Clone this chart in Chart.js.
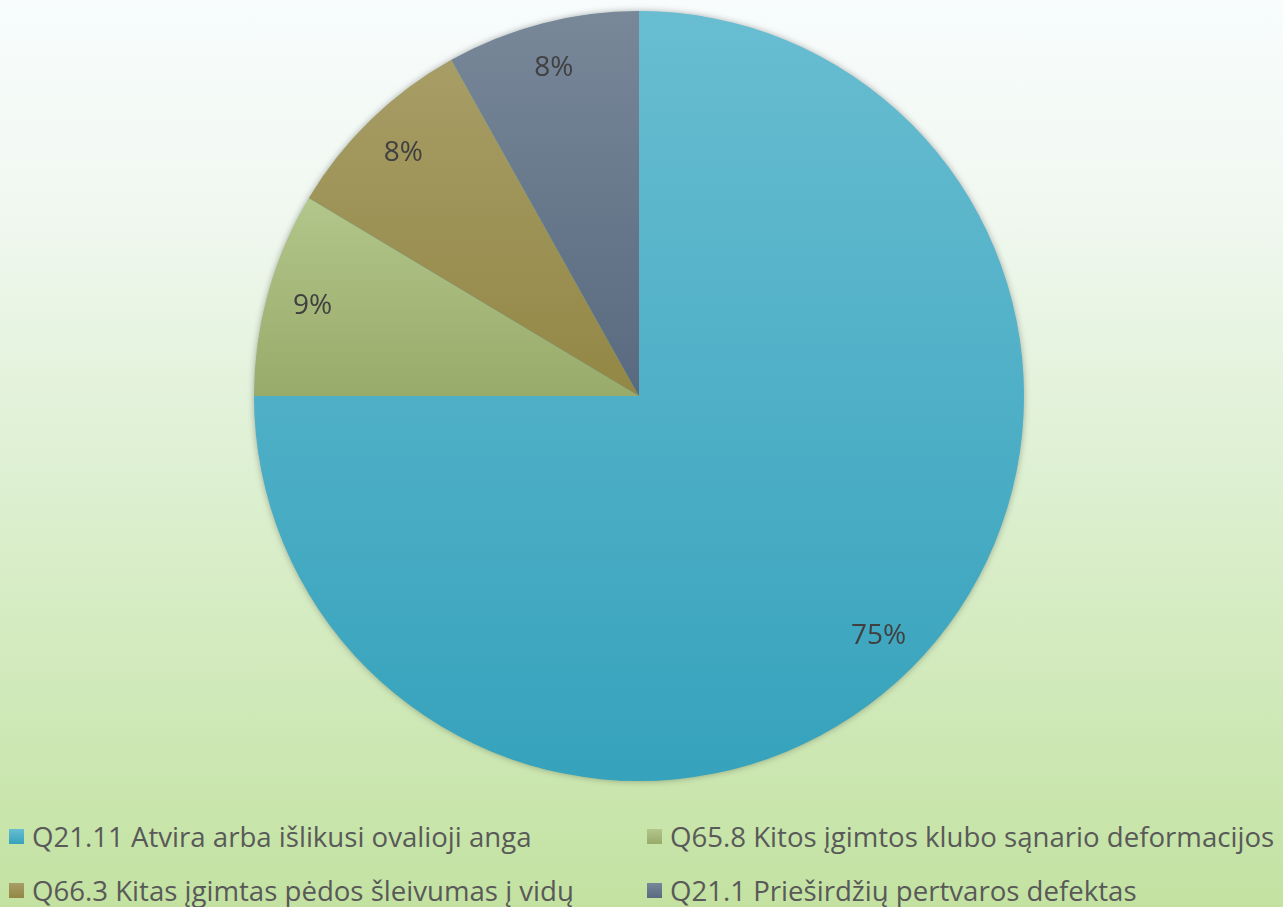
<!DOCTYPE html>
<html>
<head>
<meta charset="utf-8">
<script src="https://cdn.jsdelivr.net/npm/chart.js@4"></script>
<style>
  html, body { margin: 0; padding: 0; }
  body {
    width: 1283px; height: 907px; overflow: hidden; position: relative;
    background: linear-gradient(to bottom, #f8fcfd 0%, #f1f8f1 22%, #dcefcf 55%, #c3e2a1 100%);
    font-family: "Open Sans", sans-serif;
  }
  #wrap { position: absolute; left: 0; top: 0; width: 1283px; height: 792px; }
  #legend {
    position: absolute; left: 9px; top: 809px;
    display: grid; grid-template-columns: 638px 636px; grid-auto-rows: 54px;
  }
  .item { display: flex; align-items: center; color: #595959; font-size: 27.6px; white-space: nowrap; }
  .box { width: 15px; height: 15px; margin-right: 8px; flex: none; }
</style>
</head>
<body>
<div id="wrap"><canvas id="pie" width="1283" height="792"></canvas></div>
<div id="legend"></div>
<script>
// chart data
const categories = [
  "Q21.11 Atvira arba išlikusi ovalioji anga",
  "Q65.8 Kitos įgimtos klubo sąnario deformacijos",
  "Q66.3 Kitas įgimtas pėdos šleivumas į vidų",
  "Q21.1 Prieširdžių pertvaros defektas"
];
const shares = [75, 8.6, 8.3, 8.1];

// fill colours, top and bottom of each slice
const topColors = ["#68bdd1", "#b3c68b", "#a79d66", "#788899"];
const bottomColors = ["#36a2bc", "#98ab6a", "#938745", "#59697f"];

const total = shares.reduce((a, b) => a + b, 0);

// vertical gradient over the slice's own bounds
function sliceFill(ctx) {
  const chart = ctx.chart;
  const area = chart.chartArea;
  const i = ctx.dataIndex;
  if (!area) return topColors[i];
  const cx = (area.left + area.right) / 2;
  const cy = (area.top + area.bottom) / 2;
  const r = Math.min(area.right - area.left, area.bottom - area.top) / 2;
  let before = 0;
  for (let k = 0; k < i; k++) before += shares[k];
  const a0 = -Math.PI / 2 + before / total * Math.PI * 2;
  const a1 = a0 + shares[i] / total * Math.PI * 2;
  let yMin = cy, yMax = cy;
  for (let s = 0; s <= 60; s++) {
    const a = a0 + (a1 - a0) * s / 60;
    const y = cy + Math.sin(a) * r;
    yMin = Math.min(yMin, y);
    yMax = Math.max(yMax, y);
  }
  const g = chart.ctx.createLinearGradient(0, yMin, 0, yMax);
  g.addColorStop(0, topColors[i]);
  g.addColorStop(1, bottomColors[i]);
  return g;
}

// soft shadow under the whole pie
const pieShadow = {
  id: 'pieShadow',
  beforeDatasetsDraw(chart) {
    const arc = chart.getDatasetMeta(0).data[0];
    if (!arc) return;
    const c = chart.ctx;
    c.save();
    c.shadowColor = 'rgba(0,0,0,0.35)';
    c.shadowBlur = 7;
    c.fillStyle = '#4ab0c8';
    c.beginPath();
    c.arc(arc.x, arc.y, arc.outerRadius - 0.5, 0, Math.PI * 2);
    c.fill();
    c.restore();
  }
};

// percent labels inside slices
const percentLabels = {
  id: 'percentLabels',
  afterDatasetsDraw(chart) {
    const c = chart.ctx;
    c.save();
    c.font = '28px "Open Sans"';
    c.fillStyle = '#404040';
    c.textAlign = 'center';
    c.textBaseline = 'middle';
    chart.getDatasetMeta(0).data.forEach((arc, i) => {
      const mid = (arc.startAngle + arc.endAngle) / 2;
      const d = arc.outerRadius * 0.88;
      const txt = Math.round(shares[i] / total * 100) + '%';
      c.fillText(txt, arc.x + Math.cos(mid) * d, arc.y + Math.sin(mid) * d);
    });
    c.restore();
  }
};

new Chart(document.getElementById('pie'), {
  type: 'pie',
  data: {
    labels: categories,
    datasets: [{
      data: shares,
      backgroundColor: sliceFill,
      borderWidth: 0,
      hoverOffset: 0
    }]
  },
  options: {
    responsive: false,
    animation: false,
    layout: { padding: { top: 11, bottom: 11, left: 0, right: 5 } },
    plugins: {
      legend: { display: false },
      tooltip: { enabled: false }
    }
  },
  plugins: [pieShadow, percentLabels]
});

// legend below the chart, two columns
const legend = document.getElementById('legend');
categories.forEach((name, i) => {
  const item = document.createElement('div');
  item.className = 'item';
  item.innerHTML = `<span class="box" style="background:linear-gradient(${topColors[i]},${bottomColors[i]})"></span><span>${name}</span>`;
  legend.appendChild(item);
});
</script>
</body>
</html>
